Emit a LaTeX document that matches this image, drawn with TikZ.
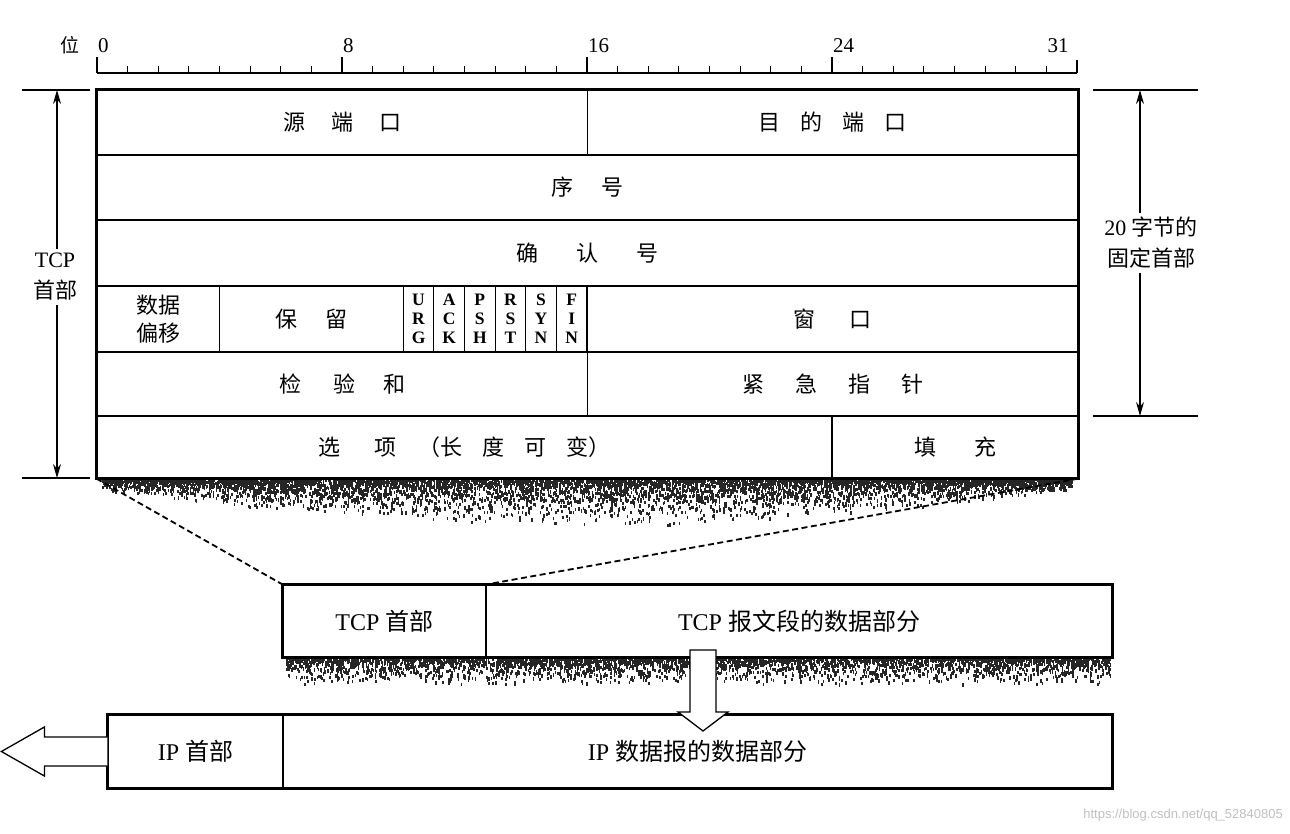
\documentclass[tikz,border=0pt]{standalone}
\usepackage{fontspec}
\setmainfont{Liberation Serif}
\newfontfamily\cjk{Noto Sans CJK SC}
\newfontfamily\wmfont{Liberation Sans}
\usetikzlibrary{arrows.meta}
\newcommand\cg[1]{\hspace{#1pt}}
\begin{document}
\begin{tikzpicture}[x=1pt,y=-1pt,
  cell/.style={draw, line width=1.2pt, inner sep=0pt, align=center,
    font=\cjk\fontsize{22}{32}\selectfont},
  flag/.style={cell, minimum width=30.625pt, minimum height=66pt,
    font=\bfseries\fontsize{17.5}{19}\selectfont},
  lbl/.style={align=center, inner sep=4pt, font=\fontsize{22}{31}\selectfont},
  big/.style={cell, font=\fontsize{24}{28}\selectfont},
  dim/.style={line width=1.1pt, -{Stealth[length=14pt,width=8pt]}},
  ext/.style={line width=1.1pt},
  shade/.style={fill=black!85},
  blk/.style={fill=white, draw, line width=1.3pt, line join=miter}
]
\useasboundingbox (0,0) rectangle (1290,834);

% shadows
\pgfmathsetseed{7}
\foreach \i in {1,...,6000}{
  \pgfmathsetmacro\u{rnd}
  \pgfmathsetmacro\xx{102+970*\u}
  \pgfmathsetmacro\dd{12+36*sin(180*\u)}
  \pgfmathsetmacro\yy{478+\dd*rnd*rnd}
  \fill[shade] (\xx,\yy) rectangle ++(1.6,3.2);
}
\foreach \i in {1,...,3600}{
  \pgfmathsetmacro\xx{286+824*rnd}
  \pgfmathsetmacro\yy{657+27*rnd*rnd}
  \fill[shade] (\xx,\yy) rectangle ++(1.6,3.2);
}

% ruler
\node[font=\cjk\fontsize{19}{20}\selectfont] (wei) at (70,45) {位};
\draw[line width=1.2pt] (97,73) -- (1077,73);
\foreach \k in {1,...,31}{\draw[line width=1pt] ({97+\k*30.625},73) -- ++(0,-7);}
\foreach \k in {0,8,16,24}{\draw[line width=1.2pt] ({97+\k*30.625},73) -- ++(0,-16);}
\draw[line width=1.2pt] (1077,73) -- ++(0,-13);
\foreach \k/\t in {0/0,8/8,16/16,24/24,31/31}{
  \node[font=\fontsize{21}{22}\selectfont, anchor=base west, inner sep=0pt] (r\k) at ({97+\k*30.625+1},53) {\t};}

% header rows
\node[cell, minimum width=490.5pt, minimum height=65pt] (src) at (342.25,122.5) {源\cg{26}端\cg{26}口};
\node[cell, minimum width=490.5pt, minimum height=65pt] (dst) at (832.75,122.5) {目\cg{20}的\cg{20}端\cg{20}口};
\node[cell, minimum width=981pt, minimum height=65pt] (seq) at (587.5,187.5) {序\cg{28}号};
\node[cell, minimum width=981pt, minimum height=66pt] (ack) at (587.5,253) {确\cg{38}认\cg{38}号};
\node[cell, minimum width=122.5pt, minimum height=66pt] (off) at (158.25,319) {数据\\[-4pt]偏移};
\node[cell, minimum width=183.75pt, minimum height=66pt] (rsv) at (311.375,319) {保\cg{28}留};
\node[flag] (urg) at (418.56,319) {U\\R\\G};
\node[flag] (ackf) at (449.19,319) {A\\C\\K};
\node[flag] (psh) at (479.81,319) {P\\S\\H};
\node[flag] (rst) at (510.44,319) {R\\S\\T};
\node[flag] (syn) at (541.06,319) {S\\Y\\N};
\node[flag] (fin) at (571.69,319) {F\\I\\N};
\node[cell, minimum width=490.5pt, minimum height=66pt] (win) at (832.75,319) {窗\cg{34}口};
\node[cell, minimum width=490.5pt, minimum height=64pt] (chk) at (342.25,384) {检\cg{32}验\cg{28}和};
\node[cell, minimum width=490.5pt, minimum height=64pt] (urp) at (832.75,384) {紧\cg{31}急\cg{31}指\cg{31}针};
\node[cell, minimum width=735pt, minimum height=62pt] (opt) at (464.5,447) {选\cg{34}项\cg{22}（长\cg{20}度\cg{20}可\cg{20}变）};
\node[cell, minimum width=246pt, minimum height=62pt] (pad) at (955,447) {填\cg{38}充};
\draw[line width=3pt] (src.north west) rectangle (pad.south east);

% left dimension
\coordinate (lt) at (57,90); \coordinate (lb) at (57,478);
\draw[ext] (22,90) -- (90,90);
\draw[ext] (22,478) -- (90,478);
\node[lbl] (lh) at (55,277) {TCP\\{\cjk 首部}};
\draw[dim] (lh.north -| lt) -- (lt);
\draw[dim] (lh.south -| lb) -- (lb);

% right dimension
\coordinate (rt) at (1140,90); \coordinate (rb) at (1140,416);
\draw[ext] (1093,90) -- (1198,90);
\draw[ext] (1093,416) -- (1198,416);
\node[lbl] (rh) at (1151,243) {20 {\cjk 字节的}\\{\cjk 固定首部}};
\draw[dim] (rh.north -| rt) -- (rt);
\draw[dim] (rh.south -| rb) -- (rb);

% TCP segment
\node[big, minimum width=203pt, minimum height=72pt] (th) at (384.5,621) {TCP {\cjk 首部}};
\node[big, minimum width=626pt, minimum height=72pt] (td) at (799,621) {TCP {\cjk 报文段的数据部分}};
\draw[line width=2.6pt] (th.north west) rectangle (td.south east);
\draw[dashed, dash pattern=on 6pt off 3.5pt, line width=1.8pt] (opt.south west) -- (th.north west);
\draw[dashed, dash pattern=on 6pt off 3.5pt, line width=1.8pt] (pad.south east) -- (th.north east);

% IP datagram
\node[big, minimum width=175pt, minimum height=73pt] (iph) at (195.5,751.5) {IP {\cjk 首部}};
\node[big, minimum width=829pt, minimum height=73pt] (ipd) at (697.5,751.5) {IP {\cjk 数据报的数据部分}};
\draw[line width=2.6pt] (iph.north west) rectangle (ipd.south east);

% block arrows
\coordinate (da) at (703,650);
\draw[blk] (da) ++(-13,0) -- ++(0,62) -- ++(-12,0) -- ++(25,19) -- ++(25,-19) -- ++(-12,0) -- ++(0,-62) -- cycle;
\coordinate (la) at (iph.west);
\draw[blk] (la) ++(0,-14.5) -- ++(-63,0) -- ++(0,-10) -- ++(-43,24.5) -- ++(43,24.5) -- ++(0,-10) -- ++(63,0);

% watermark
\node[font=\wmfont\fontsize{13}{14}\selectfont, text=black!25, anchor=east, inner sep=0pt] (wm) at (1283,815) {https://blog.csdn.net/qq\_52840805};
\end{tikzpicture}
\end{document}
